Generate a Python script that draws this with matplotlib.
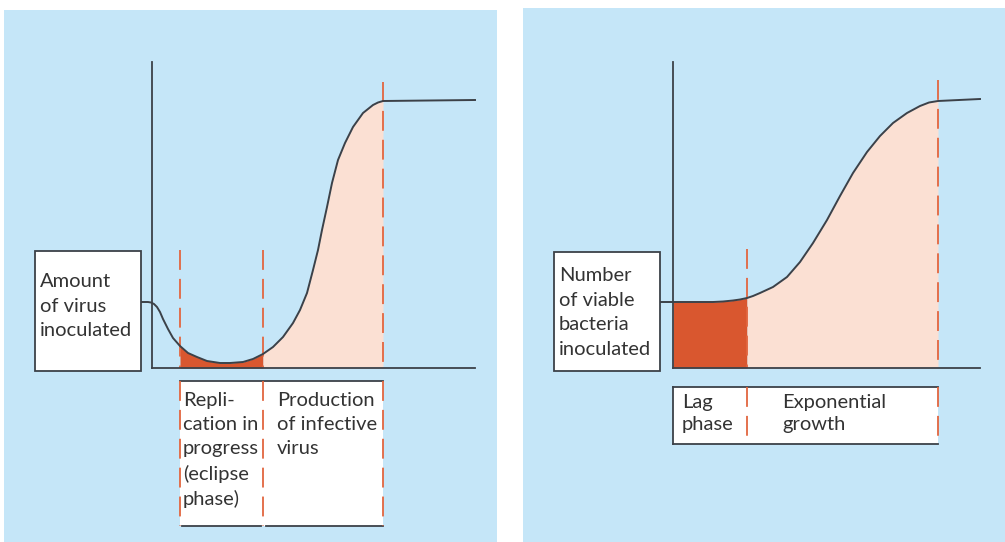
import matplotlib
matplotlib.use("Agg")
import matplotlib.pyplot as plt
import numpy as np

# ---- data (time after inoculation, level above baseline; arbitrary units)
VIRUS_T = [-12, -4, -1, 2, 5, 8, 11, 16, 21, 28, 36, 45, 55, 68, 78, 91, 101, 111,
           121, 131, 141, 148, 155, 161, 166, 170, 175, 180, 186, 193, 201, 211,
           221, 226, 231, 323]
VIRUS_LEVEL = [66, 66, 65.5, 64, 61, 56, 49, 39, 30, 22, 15, 11, 7, 5, 5, 6, 9, 14,
               21, 31, 45, 58, 75, 98, 118, 138, 161, 185, 208, 225, 241, 255,
               263, 265.5, 267, 268]
VIRUS_PHASES = [28, 111, 231]          # eclipse start, production start, plateau
VIRUS_LABELS = ["Repli-\ncation in\nprogress\n(eclipse\nphase)", "Production\nof infective\nvirus"]
VIRUS_YLABEL = "Amount\nof virus\ninoculated"

BACT_T = [-13, 27, 40, 50, 60, 67, 74, 80, 87, 100, 114, 127, 140, 154, 167, 180,
          194, 207, 220, 234, 247, 256, 265, 307]
BACT_LEVEL = [66, 66, 66, 66.5, 67.5, 68.5, 70, 72, 75, 81, 91, 106, 125, 148, 172,
              195, 216, 232, 245, 255, 262, 265.5, 267, 269]
BACT_PHASES = [0, 74, 265]             # lag start, exponential start, plateau
BACT_LABELS = ["Lag\nphase", "Exponential\ngrowth"]
BACT_YLABEL = "Number\nof viable\nbacteria\ninoculated"

BLUE, DARK, LIGHT, DASH, INK = "#c5e6f8", "#d9572f", "#fbe0d3", "#e2663f", "#3c4148"
FONT = ["Lato", "DejaVu Sans"]
FS = 14.5

fig = plt.figure(figsize=(10.05, 5.42), dpi=100)
ax = fig.add_axes([0, 0, 1, 1])
ax.set_xlim(0, 1005)
ax.set_ylim(542, 0)
ax.axis("off")

# panel backgrounds
ax.add_patch(plt.Rectangle((4, 10), 493, 540, color=BLUE, lw=0))
ax.add_patch(plt.Rectangle((523, 8), 490, 540, color=BLUE, lw=0))

dash = (0, (11, 5))


def panel(ox, oy, t, lev, phases, top, xend, ybox, ylabel, ypad, lbox, labels,
          label_x, lpad, lspace, dash_top, flat_dark, split_bottom):
    t = np.asarray(t, float)
    lev = np.asarray(lev, float)
    x = ox + t
    y = oy - lev
    a, b, c = phases
    # fills under the curve
    m = (t >= a) & (t <= b)
    if flat_dark:
        ax.fill_between(np.r_[ox + a, x[m]], np.r_[oy - lev[0], y[m]], oy,
                        color=DARK, lw=0, zorder=2)
    else:
        ax.fill_between(x[m], y[m], oy, color=DARK, lw=0, zorder=2)
    m = (t >= b) & (t <= c)
    ax.fill_between(x[m], y[m], oy, color=LIGHT, lw=0, zorder=2)
    # axes
    ax.plot([ox, ox], [top, oy], color=INK, lw=1.3, zorder=4)
    ax.plot([ox, xend], [oy, oy], color=INK, lw=1.3, zorder=4)
    ax.plot(x, y, color=INK, lw=1.4, zorder=5, solid_joinstyle="round")
    # dashed phase markers
    for p, yt in zip(phases, dash_top):
        if p == 0:
            continue
        ax.plot([ox + p, ox + p], [yt, oy], color=DASH, lw=1.3, ls=dash, zorder=3)
    # y label box
    bx0, by0, bx1, by1 = ybox
    ax.add_patch(plt.Rectangle((bx0, by0), bx1 - bx0, by1 - by0, fc="white",
                               ec=INK, lw=1.3, zorder=6))
    ax.text(bx0 + 5, by0 + ypad, ylabel, ha="left", va="top", fontsize=FS,
            family=FONT, color="#333333", linespacing=1.55, zorder=7)
    # phase label box
    ly0, ly1 = lbox
    x0, x1, x2 = ox + a, ox + b, ox + c
    ax.add_patch(plt.Rectangle((x0, ly0), x2 - x0, ly1 - ly0, fc="white", lw=0, zorder=6))
    ax.plot([x0, x2], [ly0, ly0], color=INK, lw=1.3, zorder=7)
    if split_bottom:
        ax.plot([x0 + 2, x1 - 2], [ly1, ly1], color=INK, lw=1.3, zorder=7)
        ax.plot([x1 + 3, x2], [ly1, ly1], color=INK, lw=1.3, zorder=7)
    else:
        ax.plot([x0, x2], [ly1, ly1], color=INK, lw=1.3, zorder=7)
    for p in phases:
        if p == 0:
            ax.plot([ox, ox], [ly0, ly1], color=INK, lw=1.3, zorder=7)
        else:
            ax.plot([ox + p, ox + p], [ly0, ly1], color=DASH, lw=1.3, ls=dash, zorder=8)
    for lx, s in zip(label_x, labels):
        ax.text(lx, ly0 + lpad, s, ha="left", va="top", fontsize=FS, family=FONT,
                color="#333333", linespacing=lspace, zorder=8)


panel(152, 368, VIRUS_T, VIRUS_LEVEL, VIRUS_PHASES, 62, 475,
      (35, 251, 141, 371), VIRUS_YLABEL, 22, (381, 526), VIRUS_LABELS, [183, 277],
      11, 1.5, [250, 250, 82], False, True)
panel(673, 368, BACT_T, BACT_LEVEL, BACT_PHASES, 62, 980,
      (554, 252, 660, 371), BACT_YLABEL, 15, (387, 444), BACT_LABELS, [682, 782],
      7, 1.35, [0, 249, 80], True, False)

fig.savefig("out.png", dpi=100)
